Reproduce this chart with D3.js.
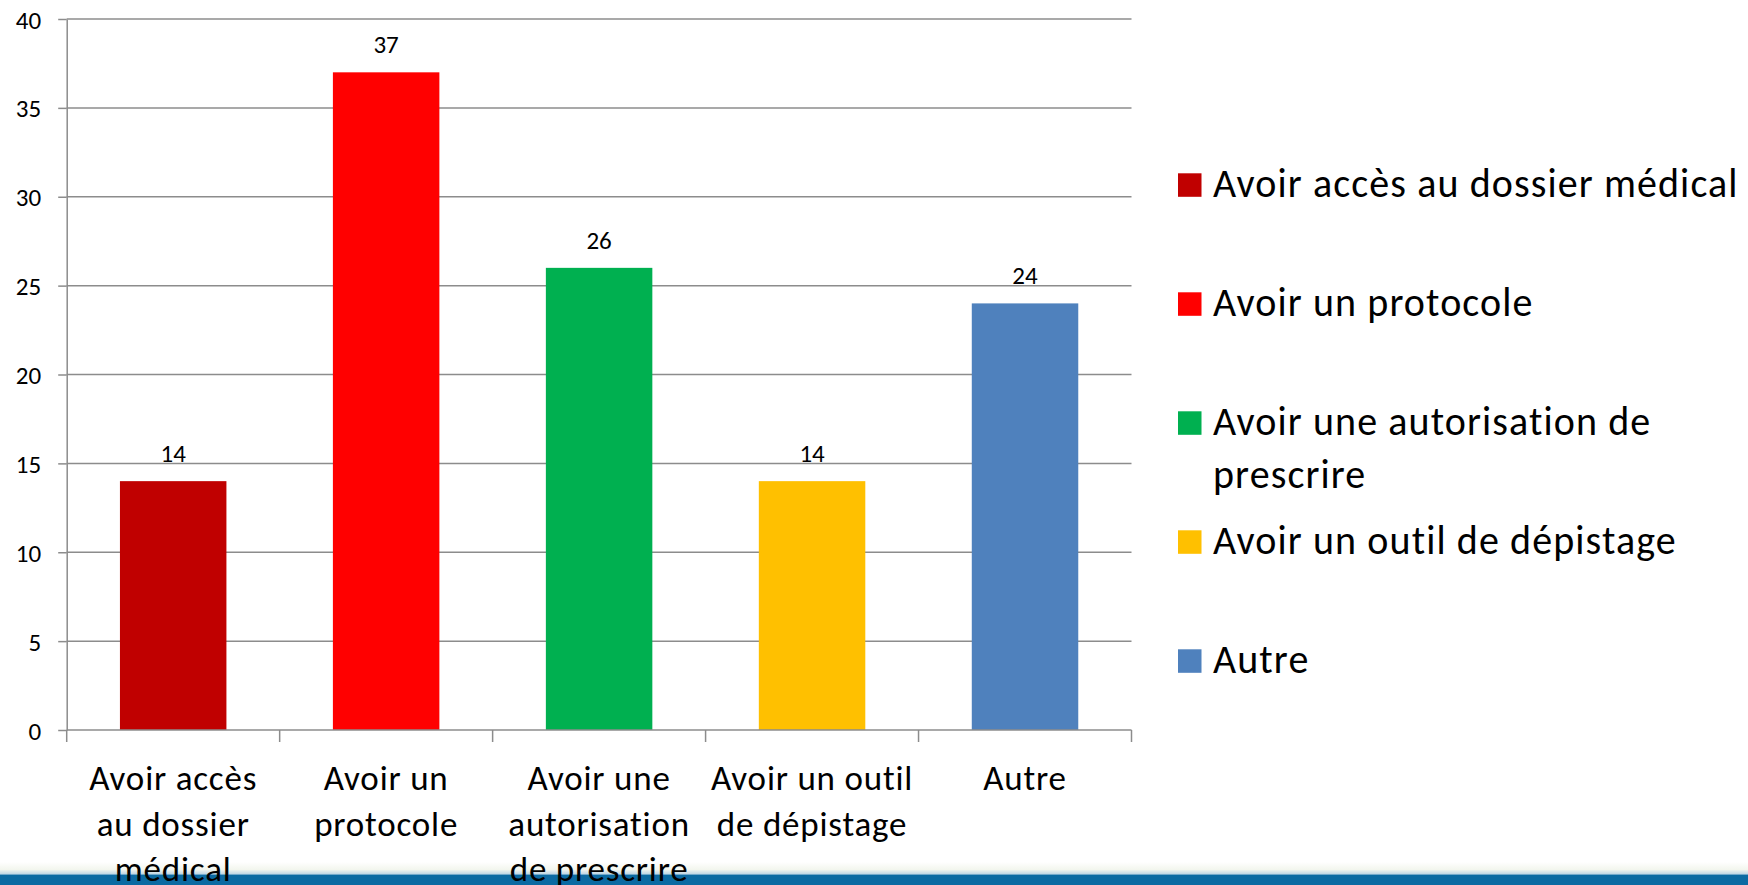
<!DOCTYPE html>
<meta charset="UTF-8">
<style>
	body { margin: 0; background: #fff; }
	text { font-family: Carlito, Calibri, Lato, sans-serif; fill: #000; }
	.grid line { stroke: #8c8c8c; stroke-width: 1.5px; }
	.axis path, .axis line { stroke: #8c8c8c; stroke-width: 1.5px; }
</style>
<body>
<script src="https://d3js.org/d3.v7.min.js"></script>
<script>

	// data
	const categories = ["Avoir accès au dossier médical", "Avoir un protocole",
		"Avoir une autorisation de prescrire", "Avoir un outil de dépistage", "Autre"];
	const values = [14, 37, 26, 14, 24];
	const colors = ["#C00000", "#FF0000", "#00B050", "#FFC000", "#4F81BD"];
	// how the category labels wrap under the axis
	const categoryLines = [
		["Avoir accès", "au dossier", "médical"],
		["Avoir un", "protocole"],
		["Avoir une", "autorisation", "de prescrire"],
		["Avoir un outil", "de dépistage"],
		["Autre"]
	];
	// how the legend entries wrap
	const legendLines = [
		["Avoir accès au dossier médical"],
		["Avoir un protocole"],
		["Avoir une autorisation de", "prescrire"],
		["Avoir un outil de dépistage"],
		["Autre"]
	];
	const yTicks = [0, 5, 10, 15, 20, 25, 30, 35, 40];

	const W = 1748, H = 885;
	const plot = { left: 66.7, top: 19, right: 1131.5, bottom: 730 };

	const svg = d3.select("body").append("svg")
		.attr("width", W)
		.attr("height", H);

	// bottom stripe of the slide
	const defs = svg.append("defs");
	const grad = defs.append("linearGradient")
		.attr("id", "fade")
		.attr("x1", 0).attr("y1", 0).attr("x2", 0).attr("y2", 1);
	grad.append("stop").attr("offset", "0%").attr("stop-color", "#ffffff");
	grad.append("stop").attr("offset", "60%").attr("stop-color", "#f3f6ee");
	grad.append("stop").attr("offset", "100%").attr("stop-color", "#b9d3e4");
	svg.append("rect")
		.attr("x", 0).attr("y", 862)
		.attr("width", W).attr("height", 12.5)
		.attr("fill", "url(#fade)");
	svg.append("rect")
		.attr("x", 0).attr("y", 874.5)
		.attr("width", W).attr("height", H - 874.5)
		.attr("fill", "#0b6aa2");

	const x = d3.scaleBand()
		.domain(categories)
		.range([plot.left, plot.right])
		.paddingInner(0.5)
		.paddingOuter(0.25);

	const y = d3.scaleLinear()
		.domain([0, 40])
		.range([plot.bottom, plot.top]);

	// gridlines
	svg.append("g")
		.attr("class", "grid")
		.selectAll("line")
		.data(yTicks.filter(d => d > 0))
		.join("line")
		.attr("x1", plot.left)
		.attr("x2", plot.right)
		.attr("y1", d => y(d))
		.attr("y2", d => y(d));

	// y axis
	const yAxis = svg.append("g")
		.attr("class", "axis")
		.attr("transform", `translate(${plot.left},0)`)
		.call(d3.axisLeft(y).tickValues(yTicks).tickSize(8.5).tickPadding(17).tickSizeOuter(0));
	yAxis.selectAll("text")
		.style("font-size", "25px")
		.attr("dy", "0.36em");

	// bars
	svg.append("g")
		.selectAll("rect")
		.data(values)
		.join("rect")
		.attr("x", (d, i) => x(categories[i]))
		.attr("y", d => y(d))
		.attr("width", x.bandwidth())
		.attr("height", d => y(0) - y(d))
		.attr("fill", (d, i) => colors[i]);

	// value labels
	svg.append("g")
		.selectAll("text")
		.data(values)
		.join("text")
		.attr("x", (d, i) => x(categories[i]) + x.bandwidth() / 2)
		.attr("y", d => y(d) - 19)
		.attr("text-anchor", "middle")
		.style("font-size", "25px")
		.text(d => d);

	// x axis: ticks sit on the category boundaries
	const boundaries = categories.map(c => x(c) - x.step() * 0.25).concat([plot.right]);
	const xAxis = svg.append("g").attr("class", "axis");
	xAxis.append("line")
		.attr("x1", plot.left).attr("x2", plot.right)
		.attr("y1", plot.bottom).attr("y2", plot.bottom);
	xAxis.selectAll("line.tick")
		.data(boundaries)
		.join("line")
		.attr("class", "tick")
		.attr("x1", d => d).attr("x2", d => d)
		.attr("y1", plot.bottom).attr("y2", plot.bottom + 12);

	// category labels
	const catLabels = svg.append("g")
		.selectAll("text")
		.data(categories)
		.join("text")
		.attr("text-anchor", "middle")
		.attr("x", d => x(d) + x.bandwidth() / 2)
		.attr("y", 790)
		.style("font-size", "35px")
		.style("letter-spacing", "0.8px");
	catLabels.selectAll("tspan")
		.data((d, i) => categoryLines[i])
		.join("tspan")
		.attr("x", function () { return d3.select(this.parentNode).attr("x"); })
		.attr("dy", (d, j) => j === 0 ? 0 : 45.5)
		.text(d => d);

	// legend
	const legend = svg.append("g")
		.attr("transform", "translate(1178,173.3)");
	const item = legend.selectAll("g")
		.data(categories)
		.join("g")
		.attr("transform", (d, i) => `translate(0,${i * 119})`);
	item.append("rect")
		.attr("width", 23.5)
		.attr("height", 23.5)
		.attr("fill", (d, i) => colors[i]);
	const lt = item.append("text")
		.attr("x", 35)
		.attr("y", 23.4)
		.style("font-size", "40px")
		.style("letter-spacing", "1.1px");
	lt.selectAll("tspan")
		.data((d, i) => legendLines[i])
		.join("tspan")
		.attr("x", 35)
		.attr("dy", (d, j) => j === 0 ? 0 : 53)
		.text(d => d);

</script>
</body>
